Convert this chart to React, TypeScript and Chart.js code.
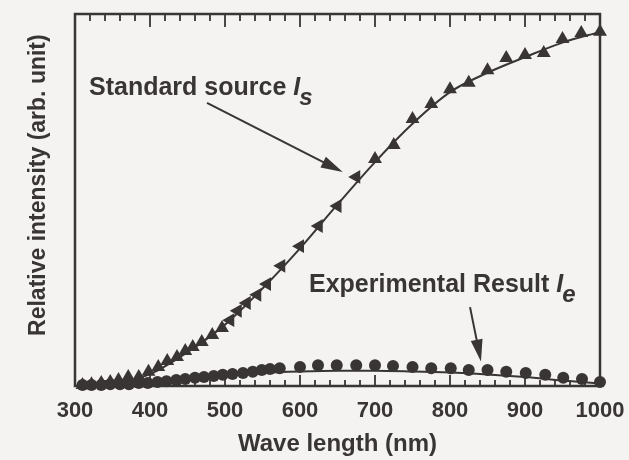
import React, { useEffect, useRef } from "react";
import { Chart, registerables } from "chart.js";

Chart.register(...registerables);

// ---------- data ----------
const STD_WAVE = [310, 322, 335, 347, 358, 371, 385, 398, 411, 423, 436, 447, 457, 469, 483, 496, 507, 517, 529, 543, 556, 575, 600, 625, 650, 675, 700, 725, 750, 775, 800, 825, 850, 875, 900, 925, 950, 975, 1000];
const STD_VAL = [0.003, 0.005, 0.008, 0.011, 0.016, 0.024, 0.024, 0.038, 0.051, 0.067, 0.078, 0.094, 0.105, 0.118, 0.137, 0.156, 0.177, 0.202, 0.223, 0.245, 0.274, 0.323, 0.376, 0.43, 0.484, 0.562, 0.61, 0.648, 0.718, 0.758, 0.798, 0.815, 0.849, 0.882, 0.89, 0.895, 0.933, 0.949, 0.952];

const STD_FIT_WAVE = [300, 350, 400, 450, 500, 550, 600, 650, 700, 750, 800, 850, 900, 950, 1000];
const STD_FIT_VAL = [0, 0.005, 0.032, 0.091, 0.165, 0.262, 0.37, 0.488, 0.602, 0.705, 0.79, 0.842, 0.884, 0.923, 0.952];

const EXP_WAVE = [310, 322, 335, 347, 360, 372, 385, 397, 410, 422, 435, 447, 460, 472, 485, 497, 510, 524, 537, 549, 560, 573, 600, 624, 649, 675, 700, 724, 750, 775, 801, 825, 850, 875, 901, 927, 951, 976, 1000];
const EXP_VAL = [0.003, 0.003, 0.003, 0.005, 0.005, 0.005, 0.008, 0.008, 0.011, 0.013, 0.016, 0.019, 0.022, 0.024, 0.027, 0.03, 0.032, 0.035, 0.038, 0.043, 0.046, 0.048, 0.051, 0.056, 0.056, 0.056, 0.056, 0.054, 0.051, 0.048, 0.048, 0.043, 0.043, 0.038, 0.035, 0.03, 0.022, 0.019, 0.011];

const EXP_FIT_WAVE = [300, 400, 450, 500, 550, 600, 650, 700, 750, 800, 850, 900, 950, 1000];
const EXP_FIT_VAL = [0, 0.005, 0.016, 0.027, 0.035, 0.039, 0.041, 0.041, 0.039, 0.036, 0.031, 0.024, 0.015, 0.007];

const X_TICKS = [300, 400, 500, 600, 700, 800, 900, 1000];
const X_TICK_LABELS = ["300", "400", "500", "600", "700", "800", "900", "1000"];
const X_MINOR_STEP = 20;

const X_TITLE = "Wave length (nm)";
const Y_TITLE = "Relative intensity (arb. unit)";

// annotation labels: [text, italic symbol, subscript], anchored in data units
const STD_LABEL = ["Standard source ", "I", "s"];
const STD_LABEL_AT = [318.7, 0.782];
const STD_ARROW = [476, 0.761, 657, 0.575];
const EXP_LABEL = ["Experimental Result ", "I", "e"];
const EXP_LABEL_AT = [612, 0.253];
const EXP_ARROW = [826.7, 0.212, 841.3, 0.066];

const INK = "#3a3535";
const BG = "#f4f3f1";
const FONT = "'Liberation Sans', Arial, Helvetica, sans-serif";

function toXY(w: number[], v: number[]) {
  return w.map((x, i) => ({ x, y: v[i] }));
}

function drawArrow(ctx: CanvasRenderingContext2D, x1: number, y1: number, x2: number, y2: number) {
  const ang = Math.atan2(y2 - y1, x2 - x1);
  const hl = 22;
  const hw = 6;
  const bx = x2 - Math.cos(ang) * hl;
  const by = y2 - Math.sin(ang) * hl;
  ctx.beginPath();
  ctx.moveTo(x1, y1);
  ctx.lineTo(bx + Math.cos(ang) * 4, by + Math.sin(ang) * 4);
  ctx.lineWidth = 2;
  ctx.stroke();
  ctx.beginPath();
  ctx.moveTo(x2, y2);
  ctx.lineTo(bx + Math.cos(ang + Math.PI / 2) * hw, by + Math.sin(ang + Math.PI / 2) * hw);
  ctx.lineTo(bx + Math.cos(ang - Math.PI / 2) * hw, by + Math.sin(ang - Math.PI / 2) * hw);
  ctx.closePath();
  ctx.fill();
}

function drawLabel(ctx: CanvasRenderingContext2D, parts: string[], px: number, py: number) {
  ctx.textBaseline = "alphabetic";
  ctx.textAlign = "left";
  ctx.font = `bold 25px ${FONT}`;
  ctx.fillText(parts[0], px, py);
  let cx = px + ctx.measureText(parts[0]).width;
  ctx.font = `italic bold 25px ${FONT}`;
  ctx.fillText(parts[1], cx, py);
  cx += ctx.measureText(parts[1]).width;
  ctx.font = `italic bold 24px ${FONT}`;
  ctx.fillText(parts[2], cx - 1, py + 10);
}

const decorPlugin = {
  id: "decor",
  beforeDraw(chart: any) {
    const ctx = chart.ctx;
    ctx.save();
    ctx.fillStyle = BG;
    ctx.fillRect(0, 0, chart.width, chart.height);
    ctx.restore();
  },
  afterDatasetsDraw(chart: any) {
    const { ctx, chartArea: a, scales } = chart;
    const xs = scales.x;
    const ys = scales.y;
    ctx.save();
    ctx.strokeStyle = INK;
    ctx.fillStyle = INK;
    // frame
    ctx.lineWidth = 2.5;
    ctx.strokeRect(a.left, a.top, a.right - a.left, a.bottom - a.top);
    // inward ticks on top and bottom
    ctx.lineWidth = 1.8;
    const min = xs.min;
    const max = xs.max;
    for (let v = min; v <= max + 1e-6; v += X_MINOR_STEP) {
      const px = xs.getPixelForValue(v);
      const major = X_TICKS.includes(Math.round(v));
      ctx.beginPath();
      ctx.moveTo(px, a.bottom);
      ctx.lineTo(px, a.bottom - (major ? 11 : 6));
      ctx.moveTo(px, a.top);
      ctx.lineTo(px, a.top + (major ? 13 : 7));
      ctx.stroke();
    }
    // annotations
    drawLabel(ctx, STD_LABEL, xs.getPixelForValue(STD_LABEL_AT[0]), ys.getPixelForValue(STD_LABEL_AT[1]));
    drawLabel(ctx, EXP_LABEL, xs.getPixelForValue(EXP_LABEL_AT[0]), ys.getPixelForValue(EXP_LABEL_AT[1]));
    drawArrow(ctx, xs.getPixelForValue(STD_ARROW[0]), ys.getPixelForValue(STD_ARROW[1]), xs.getPixelForValue(STD_ARROW[2]), ys.getPixelForValue(STD_ARROW[3]));
    drawArrow(ctx, xs.getPixelForValue(EXP_ARROW[0]), ys.getPixelForValue(EXP_ARROW[1]), xs.getPixelForValue(EXP_ARROW[2]), ys.getPixelForValue(EXP_ARROW[3]));
    // y axis title
    ctx.font = `bold 23px ${FONT}`;
    ctx.textAlign = "center";
    ctx.textBaseline = "middle";
    ctx.translate(a.left - 36, a.top + (a.bottom - a.top) * 0.46);
    ctx.rotate(-Math.PI / 2);
    ctx.fillText(Y_TITLE, 0, 0);
    ctx.restore();
  },
};

export default function App() {
  const ref = useRef<HTMLCanvasElement | null>(null);
  useEffect(() => {
    if (!ref.current) return;
    const chart = new Chart(ref.current, {
      type: "scatter",
      data: {
        datasets: [
          {
            type: "line",
            data: toXY(STD_FIT_WAVE, STD_FIT_VAL),
            borderColor: INK,
            borderWidth: 2,
            pointRadius: 0,
            cubicInterpolationMode: "monotone",
            fill: false,
          } as any,
          {
            type: "line",
            data: toXY(EXP_FIT_WAVE, EXP_FIT_VAL),
            borderColor: INK,
            borderWidth: 2,
            pointRadius: 0,
            cubicInterpolationMode: "monotone",
            fill: false,
          } as any,
          {
            data: toXY(STD_WAVE, STD_VAL),
            showLine: false,
            pointStyle: "triangle",
            pointRadius: 8,
            pointRotation: (c: any) => {
              const xv = c.raw ? c.raw.x : 0;
              return xv >= 500 && xv <= 690 ? -90 : 0;
            },
            backgroundColor: INK,
            borderColor: INK,
            borderWidth: 0,
            clip: false,
          } as any,
          {
            data: toXY(EXP_WAVE, EXP_VAL),
            showLine: false,
            pointStyle: "circle",
            pointRadius: 6,
            backgroundColor: INK,
            borderColor: INK,
            borderWidth: 0,
            clip: false,
          } as any,
        ],
      },
      options: {
        animation: false,
        responsive: false,
        events: [],
        layout: { padding: { left: 75, right: 29, top: 14, bottom: 0 } },
        plugins: { legend: { display: false }, tooltip: { enabled: false } },
        scales: {
          x: {
            type: "linear",
            min: 300,
            max: 1000,
            grid: { display: false, drawTicks: false },
            border: { display: false },
            afterBuildTicks: (s: any) => {
              s.ticks = X_TICKS.map((v) => ({ value: v }));
            },
            afterFit: (s: any) => {
              s.height = 74;
              s.paddingLeft = 0;
              s.paddingRight = 0;
            },
            ticks: {
              color: INK,
              font: { family: FONT, size: 22, weight: "bold" },
              padding: 12,
              maxRotation: 0,
              autoSkip: false,
              callback: (v: any) => {
                const i = X_TICKS.indexOf(Number(v));
                return i >= 0 ? X_TICK_LABELS[i] : "";
              },
            },
            title: {
              display: true,
              text: X_TITLE,
              color: INK,
              font: { family: FONT, size: 24, weight: "bold" },
              padding: { top: 0, bottom: 1 },
            },
          },
          y: {
            type: "linear",
            min: 0,
            max: 1,
            display: false,
          },
        },
      },
      plugins: [decorPlugin],
    } as any);
    return () => chart.destroy();
  }, []);
  return (
    <div style={{ position: "fixed", left: 0, top: 0, width: 629, height: 460, background: BG }}>
      <canvas ref={ref} width={629} height={460} style={{ display: "block" }} />
    </div>
  );
}
